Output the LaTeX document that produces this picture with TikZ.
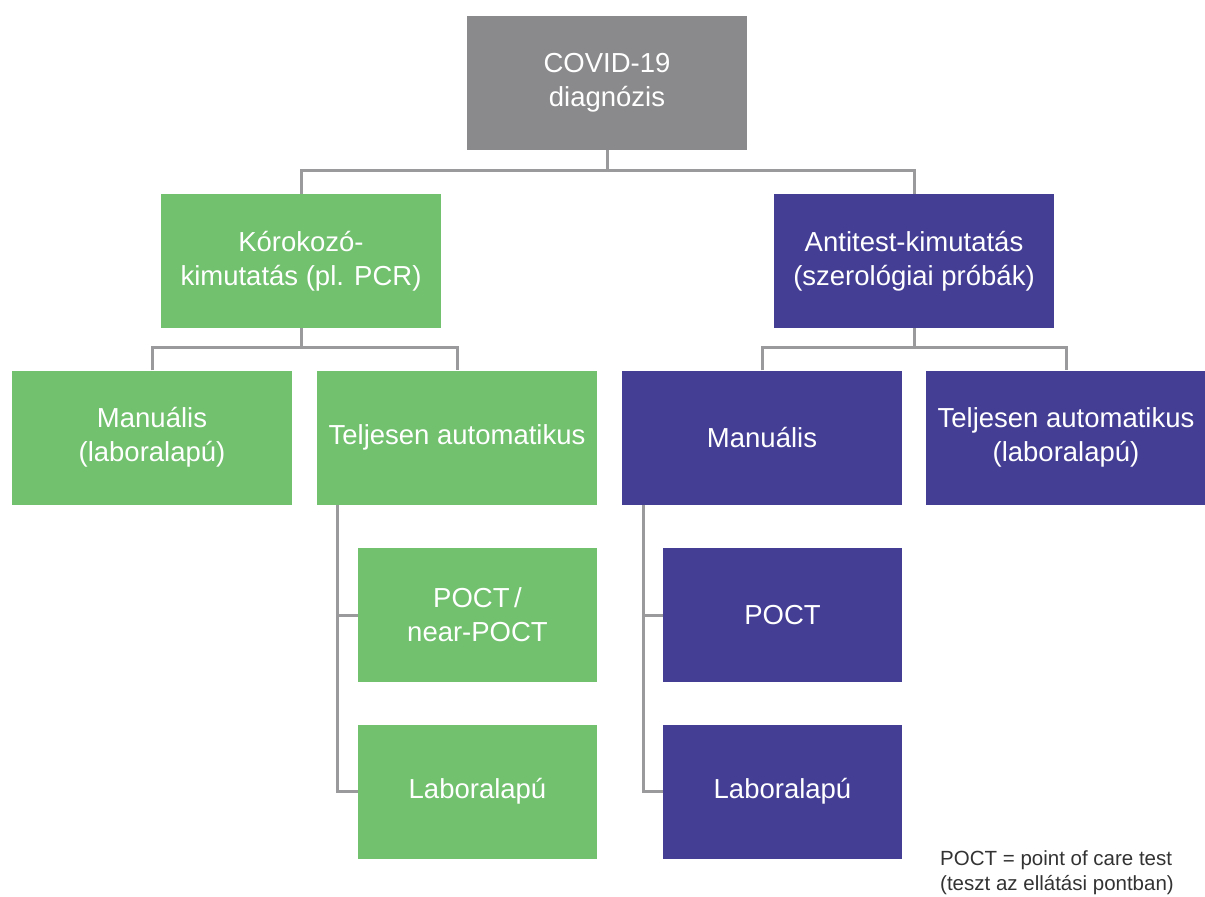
\documentclass[tikz,border=0pt]{standalone}
\usepackage{fontspec}
\setmainfont{Liberation Sans}
\definecolor{topgray}{HTML}{8A8A8C}
\definecolor{boxgreen}{HTML}{72C16F}
\definecolor{boxpurple}{HTML}{443E95}
\definecolor{linegray}{HTML}{9A9A9C}
\definecolor{notegray}{HTML}{333333}
\tikzset{
  box/.style={inner sep=0pt, minimum width=280pt, minimum height=134pt, align=center,
    text=white, font=\fontsize{27.5}{34}\selectfont},
  smallbox/.style={box, minimum width=239pt},
  graybox/.style={box, fill=topgray},
  greenbox/.style={box, fill=boxgreen},
  purplebox/.style={box, fill=boxpurple},
  greensmall/.style={smallbox, fill=boxgreen},
  purplesmall/.style={smallbox, fill=boxpurple},
  conn/.style={draw=linegray, line width=3pt},
  note/.style={inner sep=0pt, align=left, text=notegray, font=\fontsize{20.5}{25}\selectfont}
}
\begin{document}
\begin{tikzpicture}[x=1pt, y=-1pt]
\useasboundingbox (0,0) rectangle (1205,897);
\coordinate (j0) at (607,170);
\coordinate (j1) at (301,347);
\coordinate (j2) at (912,347);
\coordinate (bxg) at (337,0);
\coordinate (bxp) at (643,0);

\node[graybox] (top) at (607,83) {COVID-19\\diagnózis};
\node[greenbox] (kor) at (301,261) {Kórokozó-\\kimutatás (pl. PCR)};
\node[purplebox] (anti) at (914,261) {Antitest-kimutatás\\(szerológiai próbák)};

\node[greenbox] (gm) at (152,437.5) {Manuális\\(laboralapú)};
\node[greenbox] (gt) at (457,437.5) {Teljesen automatikus};
\node[purplebox] (pm) at (762,437.5) {Manuális};
\node[purplebox] (pt) at (1066,437.5) {Teljesen automatikus\\(laboralapú)};

\node[greensmall] (gp) at (477.5,615) {POCT\,/\\near-POCT};
\node[greensmall] (gl) at (477.5,791.5) {Laboralapú};
\node[purplesmall] (pp) at (782.5,615) {POCT};
\node[purplesmall] (pl) at (782.5,791.5) {Laboralapú};

\draw[conn] (top.south) -- (j0);
\draw[conn] (kor.north) |- (j0) -| (anti.north);
\draw[conn] (kor.south) -- (kor.south |- j1);
\draw[conn] (gm.north) |- (j1) -| (gt.north);
\draw[conn] (anti.south) -- (anti.south |- j2);
\draw[conn] (pm.north) |- (j2) -| (pt.north);
\draw[conn] (gt.south -| bxg) |- (gl.west);
\draw[conn] (gp.west) -- (gp.west -| bxg);
\draw[conn] (pm.south -| bxp) |- (pl.west);
\draw[conn] (pp.west) -- (pp.west -| bxp);

\node[note, anchor=north west] (fn) at (940,850) {POCT = point of care test\\(teszt az ellátási pontban)};
\end{tikzpicture}
\end{document}
